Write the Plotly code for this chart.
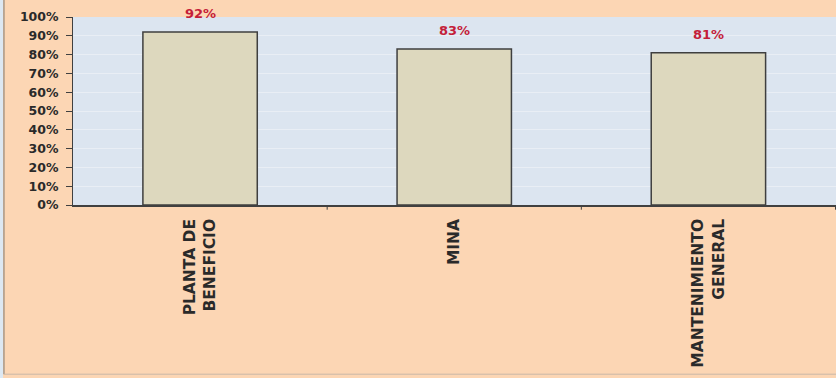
import plotly.graph_objects as go

categories = ["PLANTA DE<br>BENEFICIO", "MINA", "MANTENIMIENTO<br>GENERAL"]
values = [0.92, 0.83, 0.81]
value_labels = ["92%", "83%", "81%"]
y_ticks = [0, 0.1, 0.2, 0.3, 0.4, 0.5, 0.6, 0.7, 0.8, 0.9, 1.0]
y_tick_text = ["0%", "10%", "20%", "30%", "40%", "50%", "60%", "70%", "80%", "90%", "100%"]

FONT = "DejaVu Sans"

fig = go.Figure()
fig.add_trace(go.Bar(
    x=categories, y=values, width=0.45,
    marker=dict(color="#DDD8BE", line=dict(color="#3F3F3F", width=1.5)),
    hoverinfo="skip",
))

for c, v, t in zip(categories, values, value_labels):
    fig.add_annotation(x=c, y=v, text="<b>%s</b>" % t, showarrow=False, yanchor="bottom", yshift=9,
                       font=dict(family=FONT, size=13, color="#C41E3A"))

fig.update_layout(
    width=836, height=378,
    margin=dict(l=73, r=0, t=17, b=173),
    paper_bgcolor="#FCD6B4",
    plot_bgcolor="#DCE5F0",
    showlegend=False,
    font=dict(family=FONT, color="#222222"),
)
fig.update_yaxes(
    range=[0, 1], tickvals=y_ticks, ticktext=["<b>%s</b>" % s for s in y_tick_text],
    tickfont=dict(size=12.5, family=FONT, color="#2A2A2A"),
    showgrid=True, gridcolor="#E9EEF5", gridwidth=1,
    ticks="outside", ticklen=6, tickcolor="#404040",
    ticklabelstandoff=5,
    showline=True, linecolor="#404040", linewidth=1, zeroline=False,
)
fig.update_xaxes(
    tickangle=-90,
    tickvals=categories,
    ticktext=["<b>%s</b>" % s for s in categories],
    tickfont=dict(size=15.5, family=FONT, color="#2A2A2A"),
    ticklabelstandoff=6,
    showline=True, linecolor="#404040", linewidth=1.5,
    ticks="", showgrid=False,
)
# category boundary tick marks
for b in [0.5, 1.5, 2.5]:
    fig.add_shape(type="line", xref="x", yref="paper", x0=b, x1=b, y0=0, y1=-0.025,
                  line=dict(color="#404040", width=1))
# frame edges
fig.add_shape(type="rect", xref="paper", yref="paper", x0=-0.0957, x1=-0.0917, y0=-1.02, y1=1.1,
              fillcolor="#DDE8F2", line=dict(width=0), layer="below")
fig.add_shape(type="line", xref="paper", yref="paper", x0=-0.0905, x1=-0.0905, y0=-0.9, y1=1.1,
              line=dict(color="#A89888", width=1.5))
fig.add_shape(type="line", xref="paper", yref="paper", x0=-0.0905, x1=1.0, y0=-0.9, y1=-0.9,
              line=dict(color="#C8B8A8", width=1))

fig.write_html("out.html")
